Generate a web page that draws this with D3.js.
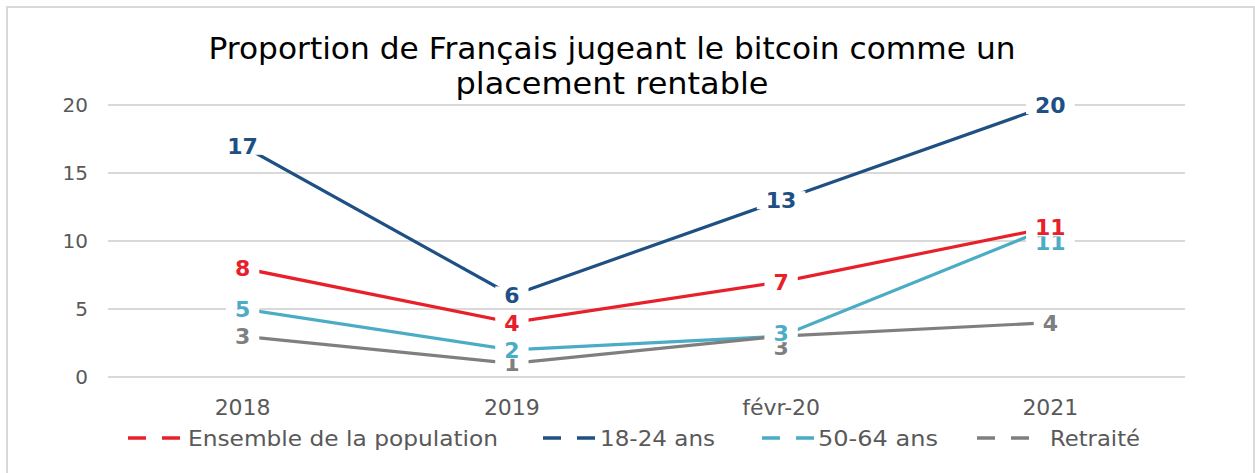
<!DOCTYPE html>
<html>
<head>
<meta charset="utf-8">
<script src="https://cdn.jsdelivr.net/npm/d3@7"></script>
<style>
  body { margin: 0; background: #fff; }
  svg text { font-family: "DejaVu Sans", sans-serif; }
</style>
</head>
<body>
<div id="chart"></div>
<script>
// Chart data
const categories = ['2018', '2019', 'févr-20', '2021'];
const seriesNames = ['Ensemble de la population', '18-24 ans', '50-64 ans', 'Retraité'];
const ensembleValues = [8, 4, 7, 11];
const jeunesValues = [17, 6, 13, 20];
const seniorsValues = [5, 2, 3, 11];
const retraitesValues = [3, 1, 3, 4];
const yTicks = [0, 5, 10, 15, 20];
const titleLines = ['Proportion de Français jugeant le bitcoin comme un', 'placement rentable'];

const colors = ['#e8202a', '#1f5083', '#4bacc6', '#7f7f7f'];

// labels moved by hand in the original to avoid overlaps (pixels)
const labelNudge = { '2-2': -3, '3-2': 11, '2-3': 15 };

const series = [ensembleValues, jeunesValues, seniorsValues, retraitesValues]
    .map((values, i) => ({ name: seriesNames[i], color: colors[i], values }));

const W = 1255, H = 473;
const plot = { left: 108, right: 1185, top: 105, bottom: 377 };

const svg = d3.select('#chart').append('svg')
    .attr('width', W)
    .attr('height', H);

// Outer frame (bottom edge is cropped in the original)
svg.append('path')
    .attr('d', `M7,${H + 5} V7 H1254 V${H + 5}`)
    .attr('fill', 'none')
    .attr('stroke', '#d9d9d9')
    .attr('stroke-width', 2);

const x = d3.scaleBand()
    .domain(categories)
    .range([plot.left, plot.right]);

const y = d3.scaleLinear()
    .domain([0, 20])
    .range([plot.bottom, plot.top]);

const cx = c => x(c) + x.bandwidth() / 2;

// Gridlines
svg.append('g')
    .selectAll('line')
    .data(yTicks)
    .join('line')
    .attr('x1', plot.left)
    .attr('x2', plot.right)
    .attr('y1', d => y(d))
    .attr('y2', d => y(d))
    .attr('stroke', '#d9d9d9')
    .attr('stroke-width', 2);

// Y axis labels
const yAxis = svg.append('g')
    .attr('transform', `translate(${plot.left - 20},0)`)
    .call(d3.axisLeft(y).tickValues(yTicks).tickSize(0).tickPadding(0));
yAxis.select('.domain').remove();
yAxis.selectAll('text')
    .attr('font-size', 20)
    .attr('fill', '#595959')
    .style('font-family', '"DejaVu Sans", sans-serif');

// X axis labels
const xAxis = svg.append('g')
    .attr('transform', `translate(0,${plot.bottom + 22})`)
    .call(d3.axisBottom(x).tickSize(0).tickPadding(0));
xAxis.select('.domain').remove();
xAxis.selectAll('text')
    .attr('font-size', 22)
    .attr('fill', '#595959')
    .style('font-family', '"DejaVu Sans", sans-serif');

// Lines
const line = d3.line()
    .x((d, i) => cx(categories[i]))
    .y(d => y(d));

svg.append('g')
    .selectAll('path')
    .data(series)
    .join('path')
    .attr('d', d => line(d.values))
    .attr('fill', 'none')
    .attr('stroke', d => d.color)
    .attr('stroke-width', 3.2);

// Data labels on white boxes, drawn last series first
const labelGroup = svg.append('g');
series.slice().reverse().forEach(s => {
    const si = series.indexOf(s);
    s.values.forEach((v, i) => {
        const dy = labelNudge[`${si}-${i}`] || 0;
        const g = labelGroup.append('g')
            .attr('transform', `translate(${cx(categories[i])},${y(v) + dy})`);
        const rect = g.append('rect').attr('fill', '#fff');
        const t = g.append('text')
            .attr('text-anchor', 'middle')
            .attr('dy', '0.36em')
            .attr('font-size', 22)
            .attr('font-weight', 'bold')
            .attr('fill', s.color)
            .text(v);
        const bb = t.node().getBBox();
        rect.attr('x', -bb.width / 2 - 9)
            .attr('y', -9)
            .attr('width', bb.width + 18)
            .attr('height', 18);
    });
});

// Title
const titleWidths = [807, 313];
svg.append('g')
    .selectAll('text')
    .data(titleLines)
    .join('text')
    .attr('x', 612)
    .attr('y', (d, i) => 59 + i * 35)
    .attr('text-anchor', 'middle')
    .attr('font-size', 31)
    .attr('fill', '#000')
    .attr('textLength', (d, i) => titleWidths[i])
    .attr('lengthAdjust', 'spacingAndGlyphs')
    .text(d => d);

// Legend
const legendX = [128, 543, 762, 977];
const legendTextX = [60, 57, 56, 73];
const legendWidths = [310, 115, 120, 90];
const legend = svg.append('g')
    .selectAll('g')
    .data(series)
    .join('g')
    .attr('transform', (d, i) => `translate(${legendX[i]},438)`);

legend.append('line')
    .attr('x1', 0)
    .attr('x2', 54)
    .attr('stroke', d => d.color)
    .attr('stroke-width', 3.5)
    .attr('stroke-dasharray', '18,16');

legend.append('text')
    .attr('x', (d, i) => legendTextX[i])
    .attr('dy', '0.36em')
    .attr('font-size', 21)
    .attr('fill', '#595959')
    .attr('textLength', (d, i) => legendWidths[i])
    .attr('lengthAdjust', 'spacingAndGlyphs')
    .text(d => d.name);
</script>
</body>
</html>
